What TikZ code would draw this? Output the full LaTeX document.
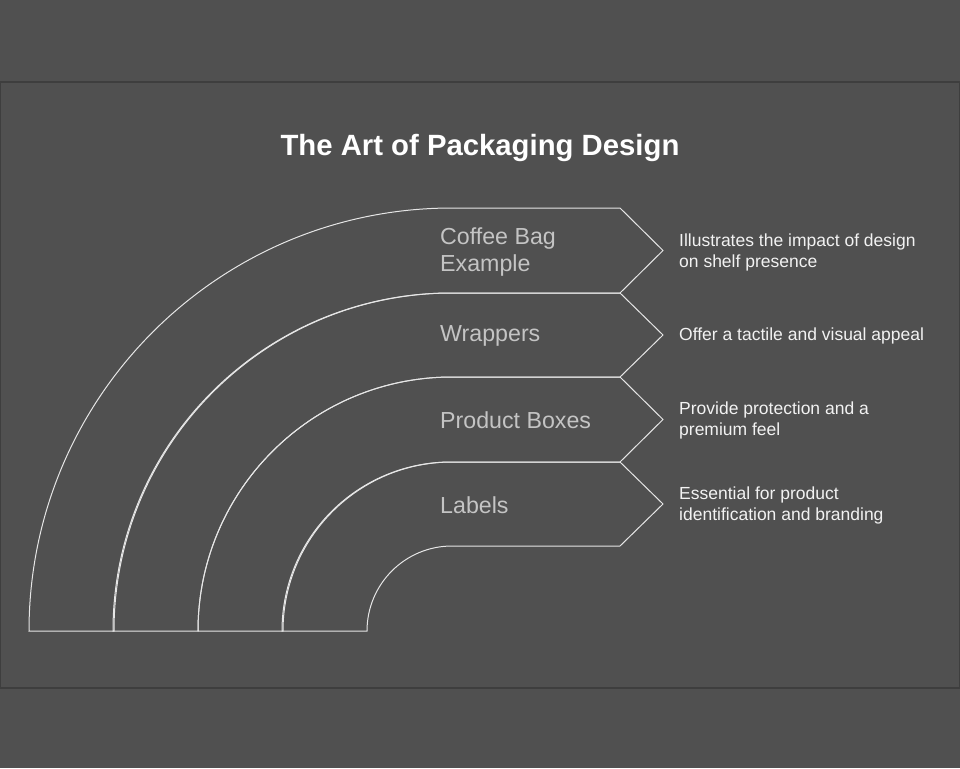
\documentclass[tikz,border=0pt]{standalone}
\usepackage{fontspec}
\setmainfont{Liberation Sans}
\definecolor{bgcol}{HTML}{505050}
\definecolor{framecol}{HTML}{3E3E3E}
\definecolor{linecol}{HTML}{E6E6E6}
\definecolor{labelcol}{HTML}{C4C4C4}
\definecolor{desccol}{HTML}{F2F2F2}

\begin{document}
\begin{tikzpicture}
          [x=1pt,y=-1pt,
           band/.style={draw=linecol,line width=1pt,line join=miter},
           bandlabel/.style={anchor=west,align=left,inner sep=0pt,text=labelcol,font=\fontsize{23.2}{27.5}\selectfont},
           desc/.style={anchor=west,align=left,inner sep=0pt,text=desccol,font=\fontsize{17.5}{21}\selectfont}]

          % background and frame
          \fill[bgcol] (0,0) rectangle (960,768);
          \draw[framecol,line width=1.2pt] (0.6,82) rectangle (959.4,688);
          \useasboundingbox (0,0) rectangle (960,768);

          \node[text=white,font=\bfseries\fontsize{29.3}{34}\selectfont] (title) at (480,148) {The Art of Packaging Design};

          % bands, centre at (452,631)
          \draw[band] (29,631) arc (180:270:423) -- (620,208) -- (663,250.5) -- (620,293) -- (452,293) arc (270:180:338) -- cycle;
          \draw[band] (113,631) arc (180:270:338) -- (620,293) -- (663,335) -- (620,377) -- (452,377) arc (270:180:254) -- cycle;
          \draw[band] (198,631) arc (180:270:254) -- (620,377) -- (663,419.5) -- (620,462) -- (452,462) arc (270:180:169) -- cycle;
          \draw[band] (282,631) arc (180:270:169) -- (620,462) -- (663,504) -- (620,546) -- (452,546) arc (270:180:85) -- cycle;

          \node[bandlabel] (coffee) at (440,252) {Coffee Bag\\Example};
          \node[bandlabel] (wrappers) at (440,336) {Wrappers};
          \node[bandlabel] (boxes) at (440,420.5) {Product Boxes};
          \node[bandlabel] (labels) at (440,505) {Labels};

          \node[desc] (coffeedesc) at (679,252) {Illustrates the impact of design\\on shelf presence};
          \node[desc] (wrappersdesc) at (679,336) {Offer a tactile and visual appeal};
          \node[desc] (boxesdesc) at (679,420.5) {Provide protection and a\\premium feel};
          \node[desc] (labelsdesc) at (679,505) {Essential for product\\identification and branding};
        \end{tikzpicture}
\end{document}
